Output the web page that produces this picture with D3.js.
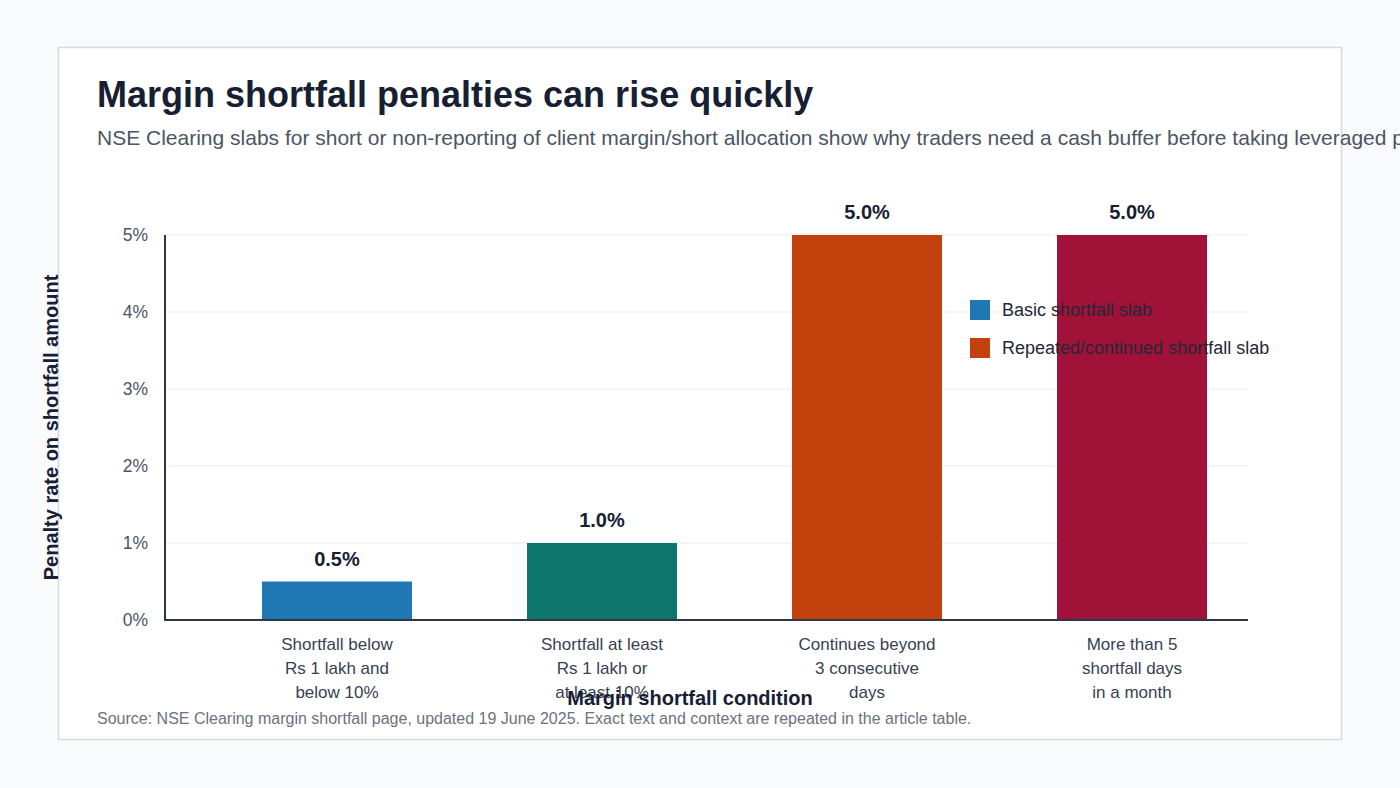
<!DOCTYPE html>
<html>
<head>
<meta charset="utf-8">
<script src="https://cdn.jsdelivr.net/npm/d3@7"></script>
<style>
  html, body { margin: 0; padding: 0; background: #f8fafc; overflow: hidden; }
  svg { display: block; font-family: "Liberation Sans", Arial, sans-serif; }
</style>
</head>
<body>
<div id="chart"></div>
<script>
const categories = [
  ["Shortfall below", "Rs 1 lakh and", "below 10%"],
  ["Shortfall at least", "Rs 1 lakh or", "at least 10%"],
  ["Continues beyond", "3 consecutive", "days"],
  ["More than 5", "shortfall days", "in a month"],
];
const penalties = [0.5, 1.0, 5.0, 5.0];
const barColors = ["#1f77b4", "#0f766e", "#c2410c", "#a01238"];
const yTicks = [0, 1, 2, 3, 4, 5];
const legendItems = ["Basic shortfall slab", "Repeated/continued shortfall slab"];
const legendColors = ["#1f77b4", "#c2410c"];

const W = 1400, H = 788;
const plot = { left: 165, right: 1248, top: 235, bottom: 620 };

const svg = d3.select("#chart").append("svg")
  .attr("width", W)
  .attr("height", H);

// card
svg.append("rect")
  .attr("x", 58.5).attr("y", 47.5)
  .attr("width", 1283).attr("height", 692)
  .attr("fill", "#ffffff")
  .attr("stroke", "#d5d9de")
  .attr("stroke-width", 1.5);

svg.append("text")
  .attr("x", 97).attr("y", 107)
  .attr("font-size", 36).attr("font-weight", 700)
  .attr("fill", "#172033")
  .text("Margin shortfall penalties can rise quickly");

// subtitle runs past the card edge, as in the source
svg.append("text")
  .attr("x", 97).attr("y", 145)
  .attr("font-size", 21)
  .attr("fill", "#4b5563")
  .text("NSE Clearing slabs for short or non-reporting of client margin/short allocation show why traders need a cash buffer before taking leveraged positions.");

const x = d3.scaleBand()
  .domain(d3.range(categories.length))
  .range([plot.left, 1304])
  .paddingInner(0.434)
  .paddingOuter(0.366);

const y = d3.scaleLinear()
  .domain([0, 5])
  .range([plot.bottom, plot.top]);

// gridlines
svg.append("g")
  .selectAll("line")
  .data(yTicks.filter((d) => d > 0))
  .join("line")
  .attr("x1", plot.left).attr("x2", plot.right)
  .attr("y1", (d) => y(d)).attr("y2", (d) => y(d))
  .attr("stroke", "#eef0f2")
  .attr("stroke-width", 1.5);

// y tick labels
svg.append("g")
  .selectAll("text")
  .data(yTicks)
  .join("text")
  .attr("x", 148)
  .attr("y", (d) => y(d) + 6)
  .attr("text-anchor", "end")
  .attr("font-size", 17.5)
  .attr("fill", "#4b5563")
  .text((d) => d + "%");

// bars
svg.append("g")
  .selectAll("rect")
  .data(penalties)
  .join("rect")
  .attr("x", (d, i) => x(i))
  .attr("y", (d) => y(d))
  .attr("width", x.bandwidth())
  .attr("height", (d) => plot.bottom - y(d))
  .attr("fill", (d, i) => barColors[i]);

// value labels
svg.append("g")
  .selectAll("text")
  .data(penalties)
  .join("text")
  .attr("x", (d, i) => x(i) + x.bandwidth() / 2)
  .attr("y", (d) => y(d) - 16)
  .attr("text-anchor", "middle")
  .attr("font-size", 20).attr("font-weight", 700)
  .attr("fill", "#172033")
  .text((d) => d.toFixed(1) + "%");

// axes lines
svg.append("line")
  .attr("x1", plot.left).attr("x2", plot.left)
  .attr("y1", plot.top).attr("y2", plot.bottom)
  .attr("stroke", "#2d3748").attr("stroke-width", 2);
svg.append("line")
  .attr("x1", plot.left - 1).attr("x2", plot.right)
  .attr("y1", plot.bottom).attr("y2", plot.bottom)
  .attr("stroke", "#2d3748").attr("stroke-width", 2);

// category labels
const catLabels = svg.append("g")
  .selectAll("text")
  .data(categories)
  .join("text")
  .attr("x", (d, i) => x(i) + x.bandwidth() / 2)
  .attr("y", 650)
  .attr("text-anchor", "middle")
  .attr("font-size", 17)
  .attr("fill", "#374151");
catLabels.selectAll("tspan")
  .data((d) => d)
  .join("tspan")
  .attr("x", function () { return d3.select(this.parentNode).attr("x"); })
  .attr("dy", (d, i) => (i === 0 ? 0 : 24))
  .text((d) => d);

// axis titles
svg.append("text")
  .attr("x", 690).attr("y", 705)
  .attr("text-anchor", "middle")
  .attr("font-size", 20).attr("font-weight", 700)
  .attr("fill", "#172033")
  .text("Margin shortfall condition");

svg.append("text")
  .attr("transform", `translate(58, ${(plot.top + plot.bottom) / 2}) rotate(-90)`)
  .attr("text-anchor", "middle")
  .attr("font-size", 20).attr("font-weight", 700)
  .attr("fill", "#172033")
  .text("Penalty rate on shortfall amount");

// legend
const legend = svg.append("g")
  .selectAll("g")
  .data(legendItems)
  .join("g")
  .attr("transform", (d, i) => `translate(970, ${300 + i * 38})`);
legend.append("rect")
  .attr("width", 20).attr("height", 20)
  .attr("fill", (d, i) => legendColors[i]);
legend.append("text")
  .attr("x", 32).attr("y", 16)
  .attr("font-size", 18)
  .attr("fill", "#1f2937")
  .text((d) => d);

// source
svg.append("text")
  .attr("x", 97).attr("y", 724)
  .attr("font-size", 16)
  .attr("fill", "#6b7280")
  .text("Source: NSE Clearing margin shortfall page, updated 19 June 2025. Exact text and context are repeated in the article table.");
</script>
</body>
</html>
